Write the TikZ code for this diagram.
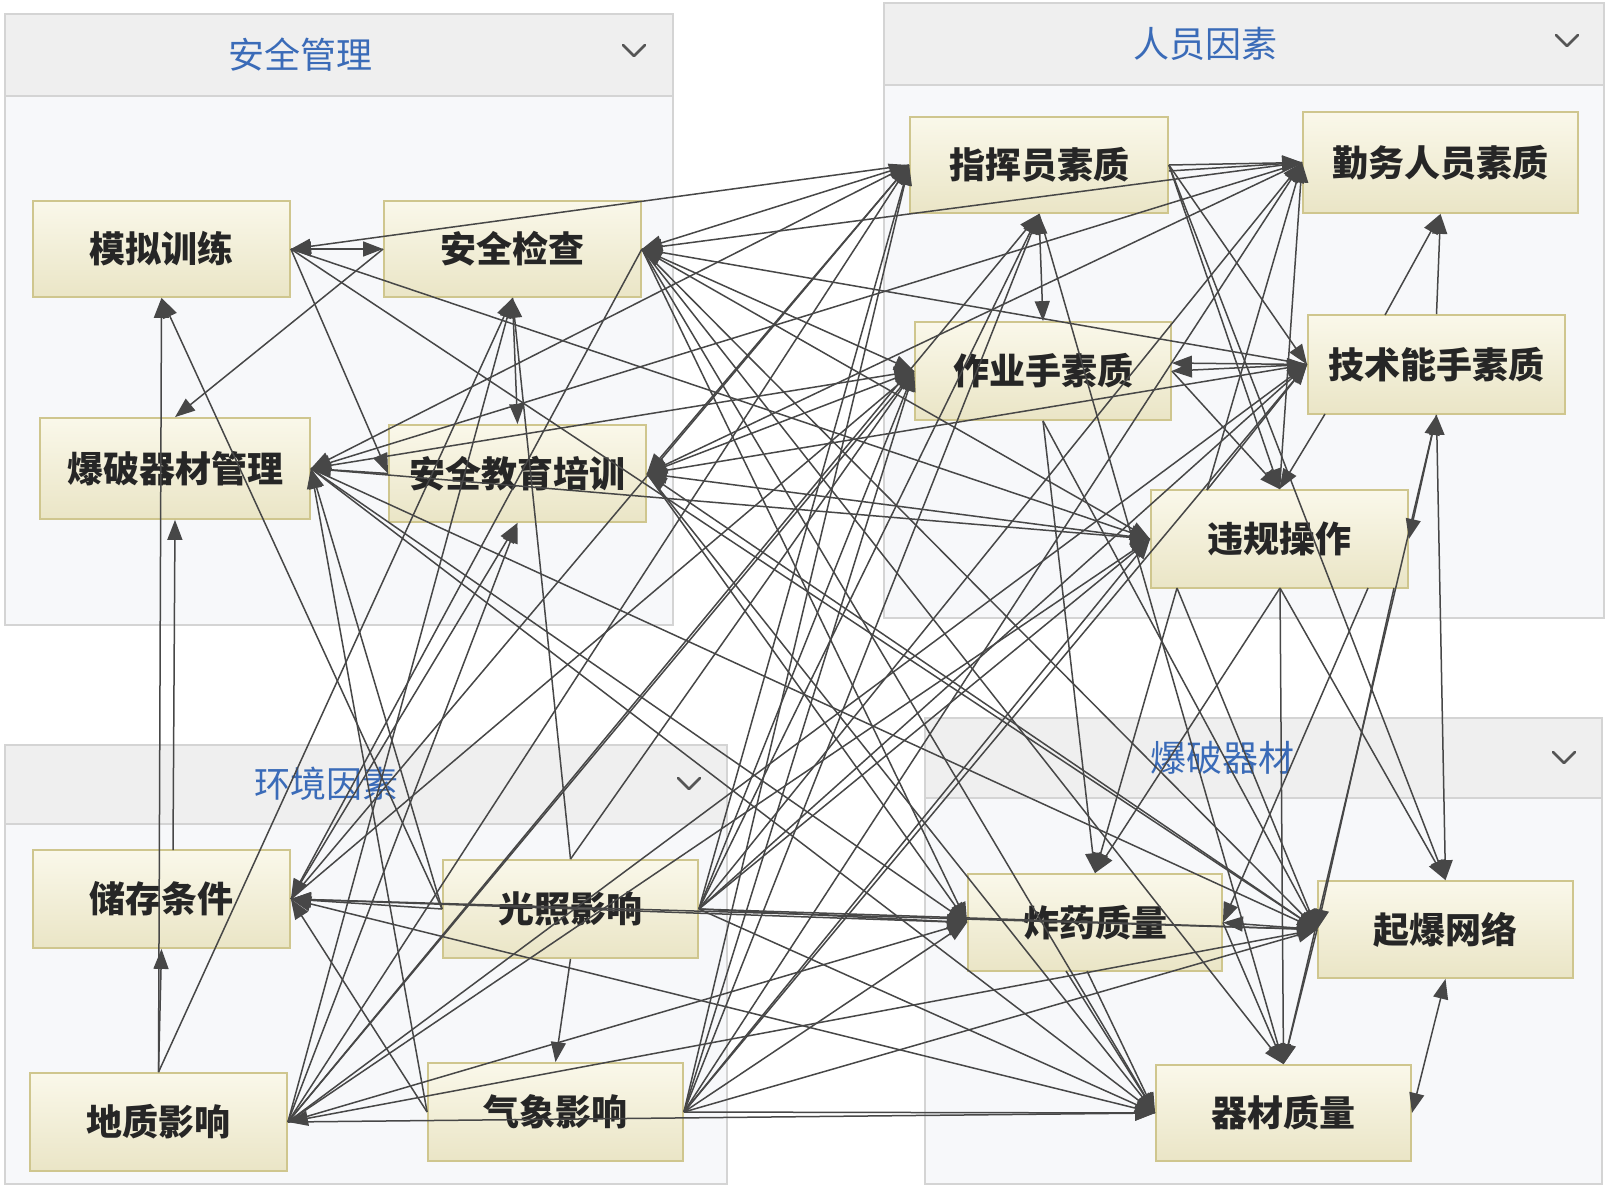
\documentclass[tikz,border=0pt]{standalone}
\usepackage{fontspec}
\newfontfamily\cjk{Noto Sans CJK SC}
\usetikzlibrary{arrows.meta,calc}
\definecolor{panelbg}{HTML}{F7F8FA}
\definecolor{panelline}{HTML}{D4D4D4}
\definecolor{headbg}{HTML}{EFEFEF}
\definecolor{titleblue}{HTML}{3A6BB8}
\definecolor{ntop}{HTML}{FAF8EA}
\definecolor{nbot}{HTML}{EAE5C6}
\definecolor{nline}{HTML}{CFC68E}
\definecolor{linkc}{HTML}{474747}
\definecolor{chev}{HTML}{555555}
\begin{document}
\begin{tikzpicture}[x=0.5pt,y=-0.5pt,
  panel/.style={fill=panelbg,draw=panelline,line width=1pt},
  header/.style={fill=headbg,draw=panelline,line width=1pt},
  ptitle/.style={font=\cjk\fontsize{18}{20}\selectfont,text=titleblue,inner sep=0pt},
  chevron/.style={draw=chev,line width=1.3pt,line cap=round,line join=round},
  fact/.style={draw=nline,line width=0.9pt,top color=ntop,bottom color=nbot,inner sep=0pt,font=\cjk\bfseries\fontsize{18}{20}\selectfont,text=black!85},
  link/.style={draw=linkc,line width=0.75pt,-{Triangle[length=10pt,width=7.5pt]}},
  blink/.style={draw=linkc,line width=0.75pt,{Triangle[length=10pt,width=7.5pt]}-{Triangle[length=10pt,width=7.5pt]}}
]
\useasboundingbox (0,0) rectangle (1606,1184);
\fill[white] (0,0) rectangle (1606,1184);
% panels
\draw[panel] (5,14) rectangle (673,625);
\draw[header] (5,14) rectangle (673,96);
\draw[panel] (884,3) rectangle (1604,618);
\draw[header] (884,3) rectangle (1604,85);
\draw[panel] (5,745) rectangle (727,1184);
\draw[header] (5,745) rectangle (727,824);
\draw[panel] (925,718) rectangle (1602,1184);
\draw[header] (925,718) rectangle (1602,798);
\node[ptitle] (t1) at (300,55) {安全管理};
\node[ptitle] (t2) at (1205,44) {人员因素};
\node[ptitle] (t3) at (326,784) {环境因素};
\node[ptitle] (t4) at (1222,758) {爆破器材};
\draw[chevron] (623,45) -- (634,56) -- (645,45);
\draw[chevron] (1556,35) -- (1567,46) -- (1578,35);
\draw[chevron] (678,778) -- (689,789) -- (700,778);
\draw[chevron] (1553,752) -- (1564,763) -- (1575,752);
% nodes
\node[fact,minimum width=128.5pt,minimum height=48pt] (mn) at (161.5,249) {模拟训练};
\node[fact,minimum width=128.5pt,minimum height=48pt] (jc) at (512.5,249) {安全检查};
\node[fact,minimum width=135pt,minimum height=50.5pt] (gl) at (175,468.5) {爆破器材管理};
\node[fact,minimum width=128.5pt,minimum height=48.5pt] (jy) at (517.5,473.5) {安全教育培训};
\node[fact,minimum width=129pt,minimum height=48pt] (zh) at (1039,165) {指挥员素质};
\node[fact,minimum width=137.5pt,minimum height=50.5pt] (qw) at (1440.5,162.5) {勤务人员素质};
\node[fact,minimum width=128pt,minimum height=49pt] (zy) at (1043,371) {作业手素质};
\node[fact,minimum width=128.5pt,minimum height=49.5pt] (js) at (1436.5,364.5) {技术能手素质};
\node[fact,minimum width=128.5pt,minimum height=49pt] (wg) at (1279.5,539) {违规操作};
\node[fact,minimum width=128.5pt,minimum height=49pt] (cc) at (161.5,899) {储存条件};
\node[fact,minimum width=127.5pt,minimum height=49pt] (gz) at (570.5,909) {光照影响};
\node[fact,minimum width=128.5pt,minimum height=49pt] (dz) at (158.5,1122) {地质影响};
\node[fact,minimum width=127.5pt,minimum height=49pt] (qx) at (555.5,1112) {气象影响};
\node[fact,minimum width=127pt,minimum height=48.5pt] (zyl) at (1095,922.5) {炸药质量};
\node[fact,minimum width=127.5pt,minimum height=48.5pt] (qb) at (1445.5,929.5) {起爆网络};
\node[fact,minimum width=127.5pt,minimum height=48pt] (qc) at (1283.5,1113) {器材质量};
% extra ports
\coordinate (ccT) at (173,850);
\coordinate (wgB1) at (1177,588);
\coordinate (wgB) at (1280,588);
\coordinate (wgB2) at (1368,588);
\coordinate (wgB3) at (1394,588);
\coordinate (jsT1) at (1385,315);
\coordinate (jsBL) at (1325,414);
\coordinate (wgTL) at (1207,490);
\coordinate (zylB1) at (1066,971);
\coordinate (zylB2) at (1087,971);
% connectors
\foreach \a/\b in {
 jc.west/gl.north, mn.east/jy.west, jy.west/gl.east, jc.south/jy.north,
 zh.west/mn.east, gz.west/mn.south, dz.north/mn.south, dz.north/cc.south,
 ccT/gl.south, dz.north/jc.south, dz.east/jc.south, gz.north/jc.south,
 dz.east/jy.south, cc.east/jy.south, jc.east/cc.east, qx.west/cc.east,
 qc.west/cc.east, gz.west/gl.east, qx.west/gl.east, gz.south/qx.north,
 qb.west/cc.east, gz.west/cc.east, zh.west/gl.east, qw.west/gl.east,
 qw.west/jc.east, js.west/jc.east, zy.west/jy.east, wg.west/jy.east,
 jy.east/js.west, gl.east/wg.west, gl.east/zy.west, mn.east/wg.west,
 qw.west/jy.east, mn.east/qb.west, jc.east/zyl.west, jc.east/qb.west,
 jc.east/qc.west, jc.east/qc.north, gl.east/zyl.west, gl.east/qb.west,
 gl.east/qc.west, jy.east/zyl.west, jy.east/qc.west,
 dz.east/zh.west, dz.east/zy.west, dz.east/wg.west, dz.east/js.west, dz.east/zh.south,
 gz.east/zh.west, gz.east/zh.south, gz.east/zy.west, gz.east/wg.west, gz.east/js.west,
 gz.east/qw.west, gz.north/zy.west,
 qx.east/zh.south, qx.east/zy.west, qx.east/wg.west, qx.east/js.west, qx.east/qw.west,
 qx.east/zh.west, cc.east/zh.west, cc.east/zy.west,
 gz.east/zyl.west, gz.east/qb.west, gz.east/qc.west,
 qx.east/zyl.west, qx.east/qb.west, qx.east/qc.west,
 dz.east/qc.west, qb.west/dz.east, dz.east/zyl.west,
 zh.east/js.west, zy.east/wg.north, jsBL/wg.north, jsT1/qw.south, js.north/qw.south,
 wgTL/qw.west, wgTL/js.west, zh.east/wg.north, wg.north/qw.west,
 zy.south/zyl.north, wgB1/zyl.north, wgB/zyl.north, wgB/qc.north, wgB/qb.north,
 wgB1/qb.west, wgB2/zyl.east, wgB3/qb.west, js.south/qc.north, zh.south/qc.north,
 zh.east/qb.north, zy.south/qb.west, zylB1/qc.west, zylB2/qc.west,
 qb.west/qc.north, zyl.east/qc.north, zh.east/qw.west}
 \draw[link] (\a) -- (\b);
\foreach \a/\b in {
 mn.east/jc.west, zh.west/jc.east, jy.east/zh.west, jc.east/zy.west, jc.east/wg.west,
 jy.east/qb.west, cc.east/zyl.west, zh.south/zy.north, zy.east/js.west,
 js.south/qb.north, js.south/wg.east, zyl.east/qb.west, qc.east/qb.south}
 \draw[blink] (\a) -- (\b);
\draw[link] ([yshift=-3pt]zh.east) -- (qw.west);
\draw[link] (js.west) -- ([yshift=4pt]zy.east);
\end{tikzpicture}
\end{document}
